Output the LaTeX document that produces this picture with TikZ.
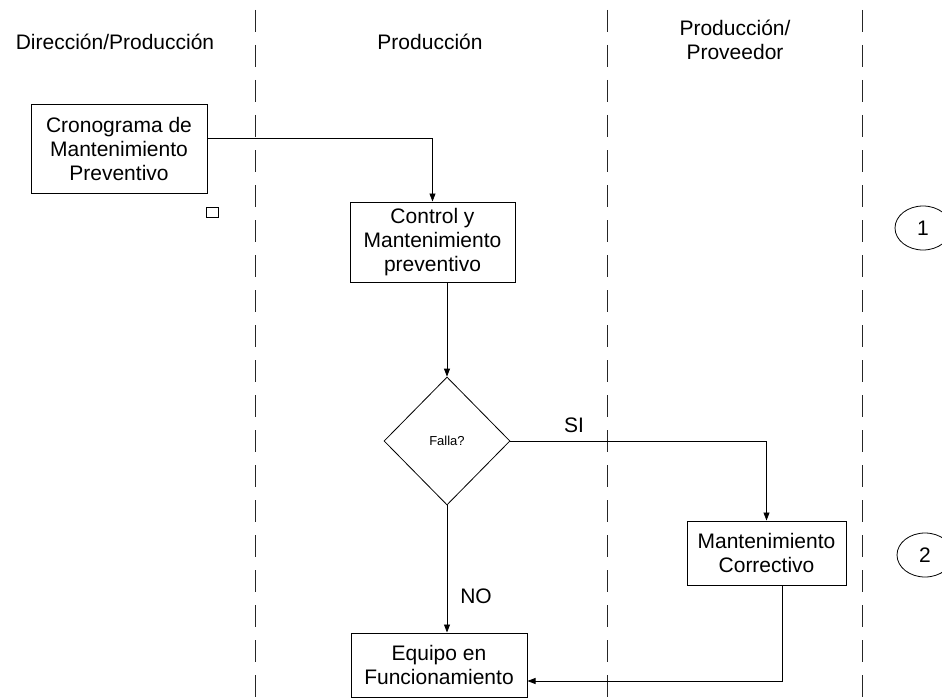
\documentclass[tikz,border=0pt]{standalone}
\usepackage{fontspec}
\setmainfont{Liberation Sans}
\usetikzlibrary{shapes.geometric,arrows.meta}
\begin{document}
\begin{tikzpicture}[x=1pt,y=-1pt,
  every node/.style={font=\fontsize{21}{24}\selectfont, inner sep=0pt},
  procbox/.style={draw, line width=1pt, rectangle, align=center},
  decision/.style={draw, line width=0.8pt, diamond, aspect=1, minimum width=126pt, minimum height=128pt, font=\fontsize{13}{15}\selectfont},
  marker/.style={draw, line width=0.8pt, ellipse, minimum width=56pt, minimum height=44pt},
  lane/.style={draw=black!85, line width=1pt, dash pattern=on 22pt off 13pt},
  flow/.style={draw, line width=0.8pt, -{Triangle[length=8pt,width=6pt]}},
  plain/.style={draw, line width=0.8pt}]
\useasboundingbox (0,0) rectangle (942,698);
\clip (0,0) rectangle (942,698);

% swimlane separators
\coordinate (l1t) at (255,10);  \coordinate (l1b) at (255,698);
\coordinate (l2t) at (607,10);  \coordinate (l2b) at (607,698);
\coordinate (l3t) at (862,10);  \coordinate (l3b) at (862,698);
\path[lane] (l1t) -- (l1b);
\path[lane] (l2t) -- (l2b);
\path[lane] (l3t) -- (l3b);

% lane headings
\node (h1) at (115,42) {Dirección/Producción};
\node (h2) at (430,42) {Producción};
\node[align=center] (h3) at (735,40) {Producción/\\Proveedor};

% process steps
\node[procbox, minimum width=176pt, minimum height=88pt] (A) at (119,149)
  {Cronograma de\\Mantenimiento\\Preventivo};
\node[draw, line width=0.8pt, minimum width=12pt, minimum height=10pt] (sq) at (212,212) {};
\node[procbox, minimum width=165pt, minimum height=80pt] (B) at (432.5,242)
  {Control y\\Mantenimiento\\preventivo};
\node[decision] (dia) at (447,441) {Falla?};
\node[procbox, minimum width=159pt, minimum height=64pt] (C) at (766.5,553)
  {Mantenimiento\\Correctivo};
\node[procbox, minimum width=176pt, minimum height=64pt] (D) at (439,665)
  {Equipo en\\Funcionamiento};

% step markers
\node[marker] (m1) at (923,228) {1};
\node[marker] (m2) at (925,555) {2};

% connectors
\path[flow] ([yshift=11pt]A.east) -| (B.north);
\path[flow] (B.south -| dia.north) -- (dia.north);
\path[flow] (dia.east) -| (C.north);
\path[flow] (dia.south) -- (dia.south |- D.north);
\coordinate (cd) at ([xshift=16pt]C.south);
\path[flow] (cd) |- ([yshift=-16pt]D.east);

% branch labels
\node (si) at (574,425) {SI};
\node (no) at (476,596) {NO};
\end{tikzpicture}
\end{document}
